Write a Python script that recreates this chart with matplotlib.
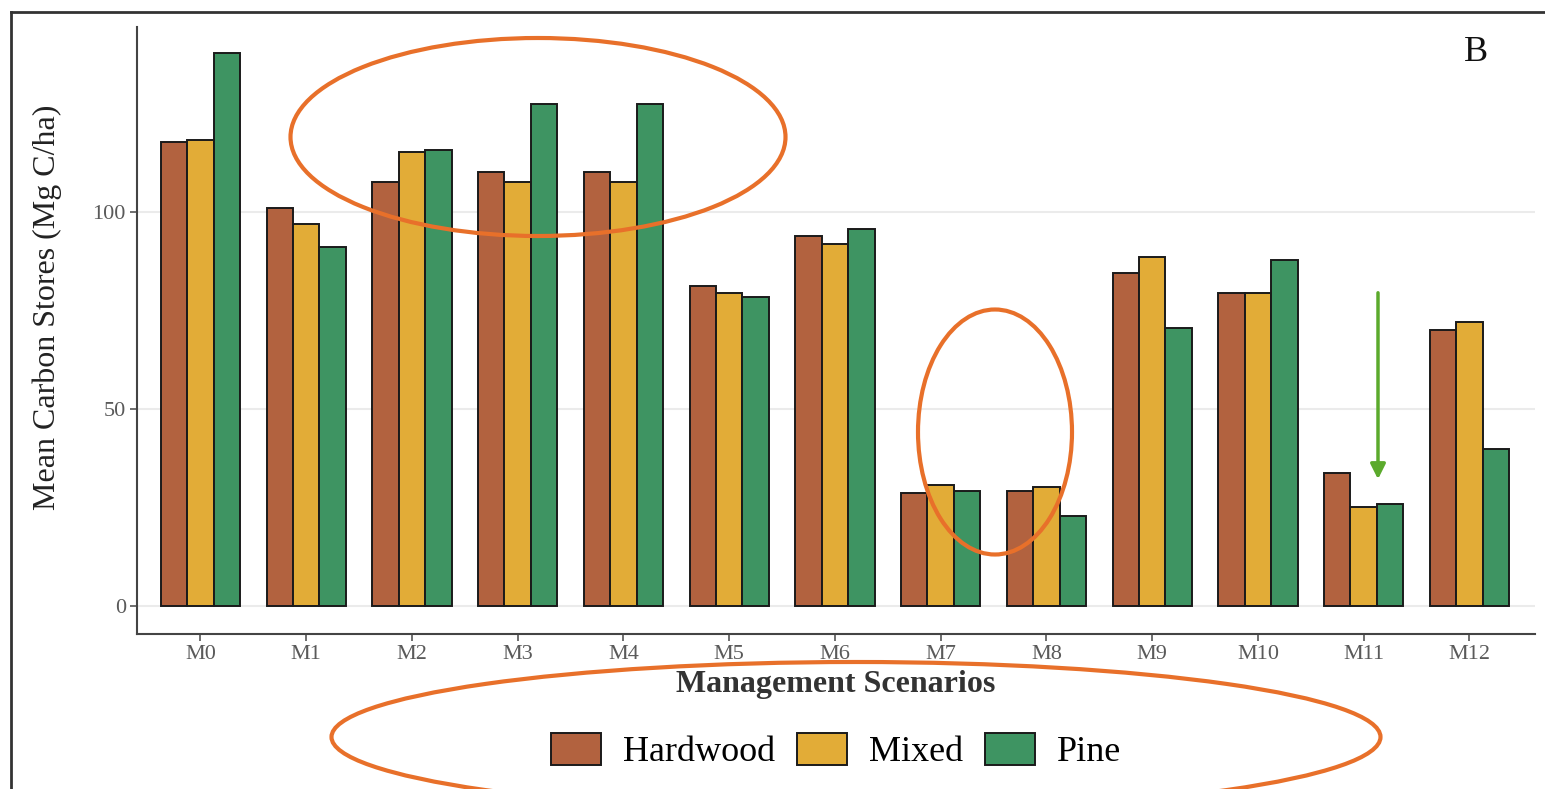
import numpy as np
import matplotlib
matplotlib.use("Agg")
import matplotlib.pyplot as plt
from matplotlib.patches import Ellipse, Patch

# mean carbon stores per scenario and forest type
scenarios = ["M0", "M1", "M2", "M3", "M4", "M5", "M6", "M7", "M8", "M9", "M10", "M11", "M12"]
hardwood = [117.8, 101.0, 107.6, 110.2, 110.2, 81.2, 93.9, 28.7, 29.2, 84.5, 79.4, 33.8, 70.0]
mixed = [118.2, 97.0, 115.2, 107.6, 107.6, 79.4, 91.9, 30.7, 30.2, 88.6, 79.4, 25.1, 72.1]
pine = [140.4, 91.1, 115.7, 127.4, 127.4, 78.4, 95.7, 29.2, 22.8, 70.6, 87.8, 25.9, 39.8]
yticks = [0, 50, 100]

c_hard = "#B2623F"
c_mix = "#E2AC37"
c_pine = "#3E9462"

serif = "Liberation Serif"

fig = plt.figure(figsize=(15.45, 7.89), dpi=100)
W, H = 1545, 789

# axes placed by pixel box
x0, x1, ytop, ybot = 137, 1535, 27, 634
ax = fig.add_axes([x0 / W, 1 - ybot / H, (x1 - x0) / W, (ybot - ytop) / H])

x = np.arange(len(scenarios))
bw = 0.25
kw = dict(width=bw, edgecolor="#1a1a1a", linewidth=1.4, zorder=3)
ax.bar(x - bw, hardwood, color=c_hard, label="Hardwood", **kw)
ax.bar(x, mixed, color=c_mix, label="Mixed", **kw)
ax.bar(x + bw, pine, color=c_pine, label="Pine", **kw)

ax.set_xlim(-0.6, 12.62)
ax.set_ylim(-7.1, 147)
ax.set_xticks(x)
ax.set_xticklabels(scenarios, fontfamily=serif, fontsize=16, color="#5a5a5a")
ax.set_yticks(yticks)
ax.set_yticklabels([str(v) for v in yticks], fontfamily=serif, fontsize=16, color="#5a5a5a")
ax.tick_params(axis="both", length=5, width=1.2, color="#555555", pad=3)
for v in yticks:
    ax.axhline(v, color="#ebebeb", linewidth=1.5, zorder=1)

for s in ["top", "right"]:
    ax.spines[s].set_visible(False)
for s in ["left", "bottom"]:
    ax.spines[s].set_color("#444444")
    ax.spines[s].set_linewidth(1.5)

ax.set_xlabel("Management Scenarios", fontfamily=serif, fontsize=23, fontweight="bold",
              color="#333333", labelpad=4)
ax.set_ylabel("Mean Carbon Stores (Mg C/ha)", fontfamily=serif, fontsize=23,
              color="#222222")
ax.yaxis.set_label_coords(-0.054, 0.538)

handles = [Patch(facecolor=c_hard, edgecolor="#1a1a1a", linewidth=1.4),
           Patch(facecolor=c_mix, edgecolor="#1a1a1a", linewidth=1.4),
           Patch(facecolor=c_pine, edgecolor="#1a1a1a", linewidth=1.4)]
fig.legend(handles, ["Hardwood", "Mixed", "Pine"], loc="center", ncol=3,
           bbox_to_anchor=(836 / W, 1 - 751 / H), frameon=False,
           prop={"family": serif, "size": 26}, handlelength=1.4, handleheight=1.0,
           handletextpad=0.6, columnspacing=0.6)

# overlay in pixel coordinates for frame, panel letter and markings
ov = fig.add_axes([0, 0, 1, 1], facecolor="none")
ov.set_xlim(0, W)
ov.set_ylim(H, 0)
ov.axis("off")
ov.plot([11, W], [12, 12], color="#333333", linewidth=2)
ov.plot([11, 11], [12, H], color="#333333", linewidth=2)
ov.text(1476, 52, "B", fontfamily=serif, fontsize=26, ha="center", va="center", color="#111111")

orange = "#E8702A"
for cx, cy, ew, eh in [(538, 137, 495, 198), (995, 432, 154, 245), (856, 737, 1049, 150)]:
    ov.add_patch(Ellipse((cx, cy), ew, eh, fill=False, edgecolor=orange, linewidth=3, zorder=5))
ov.annotate("", xy=(1378, 482), xytext=(1378, 290),
            arrowprops=dict(arrowstyle="-|>,head_width=0.45,head_length=0.9",
                            color="#5BAA2C", linewidth=2.5))

fig.savefig("out.png", dpi=100)
